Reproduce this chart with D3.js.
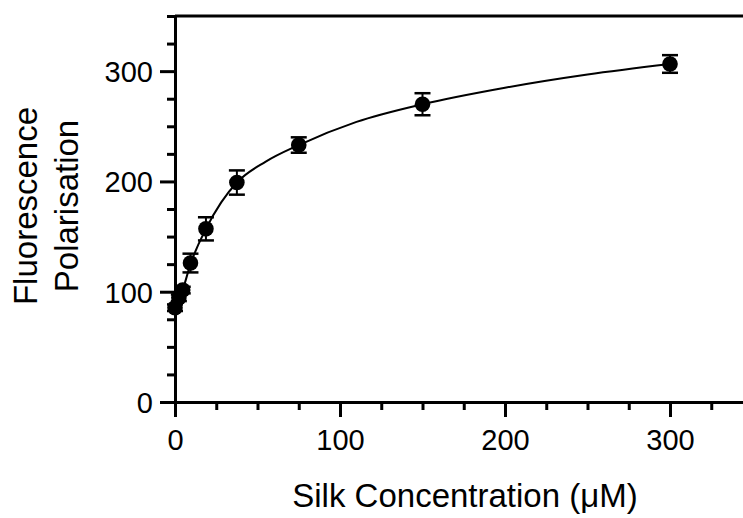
<!DOCTYPE html>
<html>
<head>
<meta charset="utf-8">
<script src="https://cdn.jsdelivr.net/npm/d3@7"></script>
<style>
  html, body { margin: 0; padding: 0; background: #fff; }
  svg { display: block; font-family: "Liberation Sans", Arial, sans-serif; }
</style>
</head>
<body>
<svg id="chart" width="743" height="518"></svg>
<script>
// ---- data ----
const concentrations = [0, 2.34, 4.69, 9.375, 18.75, 37.5, 75, 150, 300];
const polarisation   = [85.5, 94.5, 101.5, 126, 157, 199, 233, 270, 306.5];
const errors         = [3, 3, 3, 8.5, 10.5, 11, 7, 10, 8];

// fitted curve, points
const fitX = [0, 2.34, 4.69, 9.375, 18.75, 28, 37.5, 55, 75, 110, 150, 200, 250, 300];
const fitY = [85, 93.5, 102, 125, 157, 181, 199, 218, 233, 254, 270, 285, 297, 306.5];

const xTicksMajor = [0, 100, 200, 300];
const xTicksMinor = [25, 50, 75, 125, 150, 175, 225, 250, 275, 325, 350];
const yTicksMajor = [0, 100, 200, 300];
const yTicksMinor = [25, 50, 75, 125, 150, 175, 225, 250, 275, 325, 350];

const xTitle = "Silk Concentration (μM)";
const yTitle = ["Fluorescence", "Polarisation"];

// ---- layout ----
const svg = d3.select("#chart");
const x = d3.scaleLinear().domain([0, 350]).range([175, 752.5]);
const y = d3.scaleLinear().domain([0, 350]).range([402, 16]);

const black = "#000";

// top frame line
svg.append("line")
  .attr("x1", x(0)).attr("x2", 743)
  .attr("y1", y(350)).attr("y2", y(350))
  .attr("stroke", black).attr("stroke-width", 3);

// minor ticks
const xMinor = svg.append("g").attr("transform", `translate(0,${y(0)})`)
  .call(d3.axisBottom(x).tickValues(xTicksMinor).tickSize(8).tickSizeOuter(0).tickFormat(""));
const yMinor = svg.append("g").attr("transform", `translate(${x(0)},0)`)
  .call(d3.axisLeft(y).tickValues(yTicksMinor).tickSize(8).tickSizeOuter(0).tickFormat(""));

// major ticks with labels
const xAxis = svg.append("g").attr("transform", `translate(0,${y(0)})`)
  .call(d3.axisBottom(x).tickValues(xTicksMajor).tickSize(15).tickSizeOuter(0).tickPadding(12).tickFormat(d3.format("d")));
const yAxis = svg.append("g").attr("transform", `translate(${x(0)},0)`)
  .call(d3.axisLeft(y).tickValues(yTicksMajor).tickSize(15).tickSizeOuter(0).tickPadding(7).tickFormat(d3.format("d")));

[xMinor, yMinor, xAxis, yAxis].forEach(g => {
  g.selectAll("path.domain").attr("stroke", black).attr("stroke-width", 3);
  g.selectAll(".tick line").attr("stroke", black).attr("stroke-width", 3);
  g.selectAll(".tick text").attr("fill", black).style("font-size", "29px")
    .style("font-family", "'Liberation Sans', Arial, sans-serif");
});
yAxis.selectAll(".tick text").attr("dy", "0.36em");

// fitted curve
const line = d3.line()
  .x((d, i) => x(fitX[i]))
  .y((d, i) => y(fitY[i]))
  .curve(d3.curveMonotoneX);
svg.append("path")
  .datum(fitX)
  .attr("d", line)
  .attr("fill", "none")
  .attr("stroke", black)
  .attr("stroke-width", 2);

// error bars
const pts = concentrations.map((c, i) => ({c, v: polarisation[i], e: errors[i]}));
const eb = svg.append("g").selectAll("g").data(pts).join("g");
eb.append("line")
  .attr("x1", d => x(d.c)).attr("x2", d => x(d.c))
  .attr("y1", d => y(d.v + d.e)).attr("y2", d => y(d.v - d.e))
  .attr("stroke", black).attr("stroke-width", 2);
eb.selectAll("line.cap").data(d => [d.v + d.e, d.v - d.e].map(v => ({c: d.c, v})))
  .join("line").attr("class", "cap")
  .attr("x1", d => x(d.c) - 8).attr("x2", d => x(d.c) + 8)
  .attr("y1", d => y(d.v)).attr("y2", d => y(d.v))
  .attr("stroke", black).attr("stroke-width", 2.5);

// points
svg.append("g").selectAll("circle").data(pts).join("circle")
  .attr("cx", d => x(d.c)).attr("cy", d => y(d.v))
  .attr("r", 7.8).attr("fill", black);

// axis titles
svg.append("text")
  .attr("x", 465).attr("y", 507)
  .attr("text-anchor", "middle")
  .style("font-size", "33px")
  .attr("fill", black)
  .text(xTitle);

const yt = svg.append("g");
[37, 78].forEach((bx, i) => {
  yt.append("text")
    .attr("transform", `translate(${bx},206) rotate(-90)`)
    .attr("text-anchor", "middle")
    .style("font-size", "33px")
    .attr("fill", black)
    .text(yTitle[i]);
});
</script>
</body>
</html>
